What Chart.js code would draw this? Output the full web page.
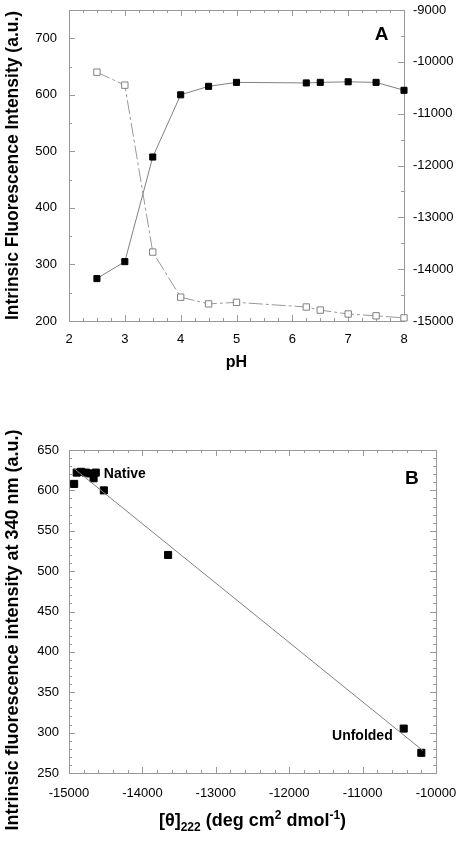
<!DOCTYPE html>
<html>
<head>
<meta charset="utf-8">
<script src="https://cdn.jsdelivr.net/npm/chart.js@4"></script>
<style>
  html, body { margin: 0; padding: 0; background: #fff; }
  #wrap { position: relative; width: 459px; height: 841px; }
  canvas { position: absolute; left: 0; }
</style>
</head>
<body>
<div id="wrap">
  <canvas id="chartA" width="459" height="400" style="top:0"></canvas>
  <canvas id="chartB" width="459" height="421" style="top:420px"></canvas>
</div>
<script>
// panel A: pH titration
const phValues = [2.5, 3, 3.5, 4, 4.5, 5, 6.25, 6.5, 7, 7.5, 8];
const fluorescence = [275, 305, 490, 600, 615, 622, 621, 622, 623, 622, 608];
const ellipticity = [-10200, -10450, -13670, -14540, -14670, -14640, -14730, -14790, -14865, -14900, -14940];

// panel B: fluorescence vs ellipticity
const thetaB = [-14930, -14895, -14835, -14770, -14715, -14635, -14665, -14525, -13650, -10440, -10200];
const fluorB = [608, 622, 623, 622, 621, 622, 615, 600, 520, 305, 275];
const fitTheta = [-14930, -10175];
const fitFluor = [627, 277.5];

Chart.defaults.font.family = 'Arial, "Liberation Sans", sans-serif';
Chart.defaults.color = '#000';
Chart.defaults.animation = false;

const FRAME = '#999';
const noGrid = { display: false, drawTicks: false };
const toPts = (xs, ys) => xs.map((x, i) => ({ x: x, y: ys[i] }));

// fixed axis size, no label overhang padding
const fixSize = (prop, size) => s => {
  s[prop] = size;
  s.paddingLeft = s.paddingRight = s.paddingTop = s.paddingBottom = 0;
};

// frame + inward tick marks (major and minor)
const frameTicks = {
  id: 'frameTicks',
  beforeDatasetsDraw(chart, args, opts) {
    const ctx = chart.ctx, a = chart.chartArea;
    ctx.save();
    ctx.strokeStyle = FRAME;
    ctx.lineWidth = 1;
    ctx.strokeRect(Math.round(a.left) + 0.5, Math.round(a.top) + 0.5,
      Math.round(a.right - a.left), Math.round(a.bottom - a.top));
    ctx.beginPath();
    (opts.marks || []).forEach(m => {
      const s = chart.scales[m.scale];
      const n = Math.round((s.max - s.min) / m.step);
      for (let i = 0; i <= n; i++) {
        const v = s.min + i * m.step;
        const r = v / m.major;
        const len = Math.abs(r - Math.round(r)) < 1e-6 ? 6 : 3;
        const p = Math.round(s.getPixelForValue(v)) + 0.5;
        m.sides.forEach(side => {
          if (side === 'bottom') { ctx.moveTo(p, a.bottom); ctx.lineTo(p, a.bottom - len); }
          if (side === 'top') { ctx.moveTo(p, a.top); ctx.lineTo(p, a.top + len); }
          if (side === 'left') { ctx.moveTo(a.left, p); ctx.lineTo(a.left + len, p); }
          if (side === 'right') { ctx.moveTo(a.right, p); ctx.lineTo(a.right - len, p); }
        });
      }
    });
    ctx.stroke();
    ctx.restore();
  }
};

// text placed at data coordinates
const dataText = {
  id: 'dataText',
  afterDatasetsDraw(chart, args, opts) {
    const ctx = chart.ctx;
    ctx.save();
    (opts.items || []).forEach(t => {
      ctx.font = t.font;
      ctx.fillStyle = '#000';
      ctx.textAlign = t.align || 'center';
      ctx.textBaseline = 'middle';
      ctx.fillText(t.text, chart.scales[t.xs].getPixelForValue(t.x), chart.scales[t.ys].getPixelForValue(t.y));
    });
    ctx.restore();
  }
};

// axis titles for panel B (with sub/superscripts)
const titlesB = {
  id: 'titlesB',
  afterDraw(chart) {
    const ctx = chart.ctx, a = chart.chartArea;
    ctx.save();
    ctx.fillStyle = '#000';
    ctx.font = 'bold 18px Arial, "Liberation Sans", sans-serif';
    ctx.textAlign = 'center';
    ctx.textBaseline = 'middle';
    ctx.translate(13, 210);
    ctx.rotate(-Math.PI / 2);
    ctx.fillText('Intrinsic fluorescence intensity at 340 nm (a.u.)', 0, 0);
    ctx.restore();

    const big = 'bold 18px Arial, "Liberation Sans", sans-serif';
    const small = 'bold 12px Arial, "Liberation Sans", sans-serif';
    const parts = [
      ['[\u03b8]', big, 0], ['222', small, 5], [' (deg cm', big, 0], ['2', small, -7],
      [' dmol', big, 0], ['-1', small, -7], [')', big, 0]
    ];
    ctx.save();
    ctx.fillStyle = '#000';
    ctx.textBaseline = 'alphabetic';
    ctx.textAlign = 'left';
    let w = 0;
    parts.forEach(p => { ctx.font = p[1]; w += ctx.measureText(p[0]).width; });
    let x = (a.left + a.right) / 2 - w / 2;
    const y = 406;
    parts.forEach(p => {
      ctx.font = p[1];
      ctx.fillText(p[0], x, y + p[2]);
      x += ctx.measureText(p[0]).width;
    });
    ctx.restore();
  }
};

new Chart(document.getElementById('chartA'), {
  type: 'scatter',
  data: {
    datasets: [
      {
        data: toPts(phValues, ellipticity),
        yAxisID: 'y2',
        showLine: true,
        borderColor: '#999',
        borderWidth: 1,
        borderDash: [14, 3, 3, 3],
        pointStyle: 'rect',
        pointRadius: 4.5,
        pointBackgroundColor: '#fff',
        pointBorderColor: '#808080',
        pointBorderWidth: 1,
        clip: false
      },
      {
        data: toPts(phValues, fluorescence),
        yAxisID: 'y',
        showLine: true,
        borderColor: '#808080',
        borderWidth: 1,
        pointStyle: 'rect',
        pointRadius: 4.3,
        pointBackgroundColor: '#000',
        pointBorderColor: '#000',
        pointBorderWidth: 1,
        clip: false
      }
    ]
  },
  options: {
    responsive: false,
    layout: { autoPadding: false, padding: { top: 10, left: 0, right: 0, bottom: 0 } },
    plugins: {
      legend: { display: false },
      tooltip: { enabled: false },
      frameTicks: {
        marks: [
          { scale: 'x', step: 0.25, major: 1, sides: ['bottom', 'top'] },
          { scale: 'y', step: 50, major: 100, sides: ['left'] },
          { scale: 'y2', step: 500, major: 1000, sides: ['right'] }
        ]
      },
      dataText: {
        items: [{ text: 'A', xs: 'x', ys: 'y', x: 7.6, y: 706, font: 'bold 19px Arial, "Liberation Sans", sans-serif' }]
      }
    },
    scales: {
      x: {
        type: 'linear', min: 2, max: 8,
        grid: noGrid, border: { display: false },
        ticks: { stepSize: 1, padding: 11, font: { size: 13 } },
        title: { display: true, text: 'pH', font: { size: 16, weight: 'bold' }, padding: { top: 0, bottom: 28 } },
        afterFit: fixSize('height', 79)
      },
      y: {
        position: 'left', min: 200, max: 750,
        grid: noGrid, border: { display: false },
        ticks: { stepSize: 100, padding: 12, font: { size: 13 }, callback: v => (v % 100 === 0 ? String(v) : '') },
        title: { display: true, text: 'Intrinsic Fluorescence Intensity (a.u.)', font: { size: 17.5, weight: 'bold' }, padding: { top: 3, bottom: 0 } },
        afterFit: fixSize('width', 69)
      },
      y2: {
        position: 'right', min: -15000, max: -9000,
        grid: noGrid, border: { display: false },
        ticks: { stepSize: 1000, padding: 9, font: { size: 13 }, callback: v => String(v) },
        afterFit: fixSize('width', 55)
      }
    }
  },
  plugins: [frameTicks, dataText]
});

new Chart(document.getElementById('chartB'), {
  type: 'scatter',
  data: {
    datasets: [
      {
        data: toPts(fitTheta, fitFluor),
        showLine: true,
        borderColor: '#808080',
        borderWidth: 1,
        pointRadius: 0,
        clip: false
      },
      {
        data: toPts(thetaB, fluorB),
        pointStyle: 'rect',
        pointRadius: 5,
        pointBackgroundColor: '#000',
        pointBorderColor: '#000',
        pointBorderWidth: 1,
        clip: false
      }
    ]
  },
  options: {
    responsive: false,
    layout: { autoPadding: false, padding: { top: 30, left: 0, right: 23, bottom: 0 } },
    plugins: {
      legend: { display: false },
      tooltip: { enabled: false },
      frameTicks: {
        marks: [
          { scale: 'x', step: 200, major: 1000, sides: ['bottom', 'top'] },
          { scale: 'y', step: 10, major: 50, sides: ['left', 'right'] }
        ]
      },
      dataText: {
        items: [
          { text: 'B', xs: 'x', ys: 'y', x: -10330, y: 614, font: 'bold 19px Arial, "Liberation Sans", sans-serif' },
          { text: 'Native', xs: 'x', ys: 'y', x: -14525, y: 620, align: 'left', font: 'bold 14px Arial, "Liberation Sans", sans-serif' },
          { text: 'Unfolded', xs: 'x', ys: 'y', x: -10590, y: 296, align: 'right', font: 'bold 14px Arial, "Liberation Sans", sans-serif' }
        ]
      }
    },
    scales: {
      x: {
        type: 'linear', min: -15000, max: -10000,
        grid: noGrid, border: { display: false },
        ticks: { stepSize: 1000, padding: 13, font: { size: 13 }, callback: v => String(v) },
        afterFit: fixSize('height', 68)
      },
      y: {
        position: 'left', min: 250, max: 650,
        grid: noGrid, border: { display: false },
        ticks: { stepSize: 50, padding: 10, font: { size: 13 } },
        afterFit: fixSize('width', 69)
      }
    }
  },
  plugins: [frameTicks, dataText, titlesB]
});
</script>
</body>
</html>
